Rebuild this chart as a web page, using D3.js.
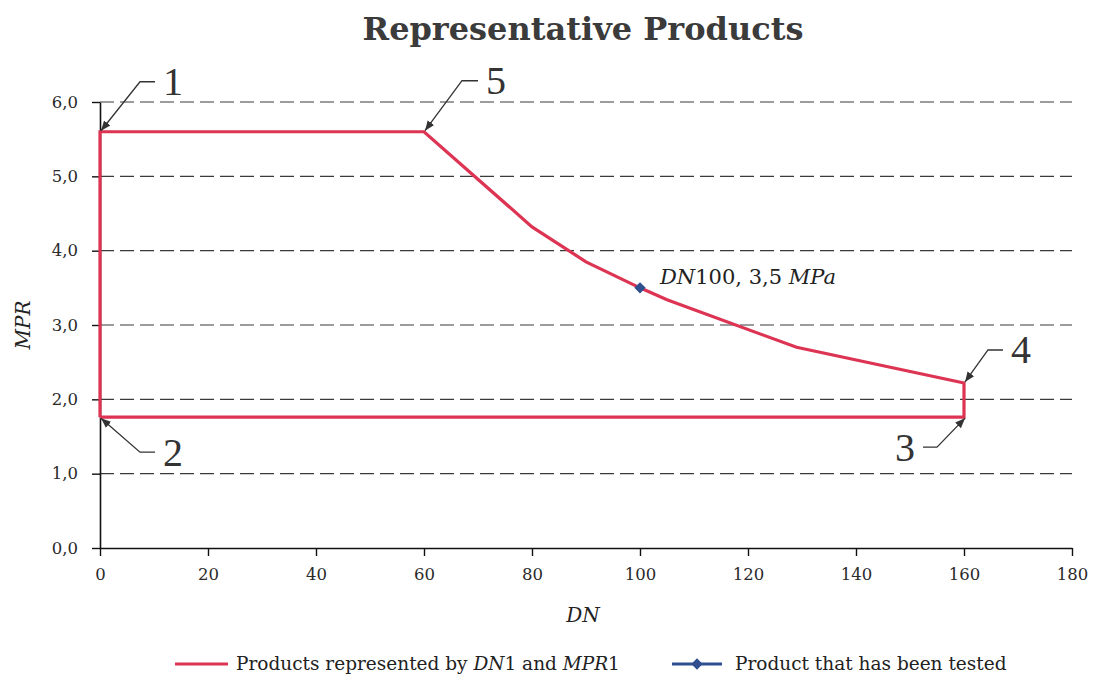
<!DOCTYPE html>
<html>
<head>
<meta charset="utf-8">
<script src="https://cdn.jsdelivr.net/npm/d3@7"></script>
<style>
  body { margin: 0; background: #fff; }
  svg { display: block; }
  text { font-family: "DejaVu Serif", serif; fill: #222; }
</style>
</head>
<body>
<div id="wrapper"></div>
<script>
// data
const xTicks = [0, 20, 40, 60, 80, 100, 120, 140, 160, 180];
const yTicks = [0, 1, 2, 3, 4, 5, 6];
const envelopeDN = [0, 0, 60, 80, 90, 100, 105, 129, 160, 160, 0];
const envelopeMPR = [1.76, 5.6, 5.6, 4.32, 3.85, 3.5, 3.34, 2.7, 2.22, 1.76, 1.76];
const testedDN = [100];
const testedMPR = [3.5];
const calloutLabels = ["1", "2", "3", "4", "5"];
const calloutDN = [0, 0, 160, 160, 60];
const calloutMPR = [5.6, 1.76, 1.76, 2.22, 5.6];

const envelope = envelopeDN.map((d, i) => ({ dn: d, mpr: envelopeMPR[i] }));
const tested = testedDN.map((d, i) => ({ dn: d, mpr: testedMPR[i] }));
const callouts = calloutLabels.map((l, i) => ({
  label: l, dn: calloutDN[i], mpr: calloutMPR[i],
}));

const red = "#dc3452";
const blue = "#2f4f8f";

let dimensions = {
  width: 1094,
  height: 677,
  margin: { top: 102, right: 22, bottom: 129, left: 100 },
};
dimensions.boundedWidth =
  dimensions.width - dimensions.margin.left - dimensions.margin.right;
dimensions.boundedHeight =
  dimensions.height - dimensions.margin.top - dimensions.margin.bottom;

const wrapper = d3
  .select("#wrapper")
  .append("svg")
  .attr("width", dimensions.width)
  .attr("height", dimensions.height);

wrapper
  .append("defs")
  .append("marker")
  .attr("id", "arrow")
  .attr("viewBox", "0 0 10 10")
  .attr("refX", 10)
  .attr("refY", 5)
  .attr("markerWidth", 10)
  .attr("markerHeight", 10)
  .attr("markerUnits", "userSpaceOnUse")
  .attr("orient", "auto")
  .append("path")
  .attr("d", "M0,1 L10,5 L0,9 Z")
  .attr("fill", "#333");

const bounds = wrapper
  .append("g")
  .attr(
    "transform",
    `translate(${dimensions.margin.left},${dimensions.margin.top})`
  );

const xScale = d3
  .scaleLinear()
  .domain([0, 180])
  .range([0, dimensions.boundedWidth]);

const yScale = d3
  .scaleLinear()
  .domain([0, 6])
  .range([dimensions.boundedHeight, 0]);

// title
wrapper
  .append("text")
  .attr("x", 583)
  .attr("y", 40)
  .attr("text-anchor", "middle")
  .style("font-size", "32px")
  .style("font-weight", "bold")
  .style("fill", "#3b3b3b")
  .text("Representative Products");

// dashed grid
bounds
  .append("g")
  .selectAll("line")
  .data(yTicks.filter((d) => d > 0))
  .join("line")
  .attr("x1", 0)
  .attr("x2", dimensions.boundedWidth)
  .attr("y1", (d) => yScale(d))
  .attr("y2", (d) => yScale(d))
  .attr("stroke", "#3a3a3a")
  .attr("stroke-width", 1.2)
  .attr("stroke-dasharray", "14,6");

// axes
const comma = (d) => d.toFixed(1).replace(".", ",");

const yAxis = bounds
  .append("g")
  .call(
    d3.axisLeft(yScale).tickValues(yTicks).tickFormat(comma).tickSize(8).tickSizeOuter(0)
  );

const xAxis = bounds
  .append("g")
  .attr("transform", `translate(0,${dimensions.boundedHeight})`)
  .call(
    d3.axisBottom(xScale).tickValues(xTicks).tickSize(8).tickSizeOuter(0)
  );

[xAxis, yAxis].forEach((ax) => {
  ax.select(".domain").attr("stroke", "#111").attr("stroke-width", 1.6);
  ax.selectAll(".tick line").attr("stroke", "#111").attr("stroke-width", 1.4);
  ax.selectAll(".tick text")
    .style("font-family", "'DejaVu Serif', serif")
    .style("font-size", "16.5px")
    .style("fill", "#2a2a2a");
});
yAxis.selectAll(".tick text").attr("x", -22);
xAxis.selectAll(".tick text").attr("y", 20);

// axis titles
wrapper
  .append("text")
  .attr("transform", "translate(30,325) rotate(-90)")
  .attr("text-anchor", "middle")
  .style("font-size", "20px")
  .style("font-style", "italic")
  .text("MPR");

wrapper
  .append("text")
  .attr("x", 583)
  .attr("y", 622)
  .attr("text-anchor", "middle")
  .style("font-size", "20px")
  .style("font-style", "italic")
  .text("DN");

// envelope
const lineGenerator = d3
  .line()
  .x((d) => xScale(d.dn))
  .y((d) => yScale(d.mpr));

bounds
  .append("path")
  .attr("d", lineGenerator(envelope))
  .attr("fill", "none")
  .attr("stroke", red)
  .attr("stroke-width", 3.2)
  .attr("stroke-linejoin", "miter");

// tested product
const diamond = d3.symbol(d3.symbolSquare, 64);

bounds
  .selectAll(".tested")
  .data(tested)
  .join("path")
  .attr("class", "tested")
  .attr("d", diamond)
  .attr("transform", (d) => `translate(${xScale(d.dn)},${yScale(d.mpr)}) rotate(45)`)
  .attr("fill", blue);

const testedLabel = bounds
  .selectAll(".tested-label")
  .data(tested)
  .join("text")
  .attr("class", "tested-label")
  .attr("x", (d) => xScale(d.dn) + 20)
  .attr("y", (d) => yScale(d.mpr) - 4)
  .style("font-size", "21px");
testedLabel.append("tspan").style("font-style", "italic").text("DN");
testedLabel.append("tspan").text((d) => `${d.dn}, ${comma(d.mpr)} `);
testedLabel.append("tspan").style("font-style", "italic").text("MPa");

// numbered callouts: elbow offset from arrow tip, then short horizontal run
const calloutLayout = {
  1: { ex: 40, ey: -50, run: 15 },
  5: { ex: 38, ey: -51, run: 16 },
  4: { ex: 24, ey: -33, run: 15 },
  3: { ex: -27, ey: 30, run: -14 },
  2: { ex: 40, ey: 35, run: 15 },
};

const calloutGroups = bounds
  .selectAll(".callout")
  .data(callouts)
  .join("g")
  .attr("class", "callout")
  .attr("transform", (d) => `translate(${xScale(d.dn)},${yScale(d.mpr)})`);

calloutGroups
  .append("path")
  .attr("d", (d) => {
    const c = calloutLayout[d.label];
    return `M${c.ex + c.run},${c.ey} L${c.ex},${c.ey} L1,${Math.sign(c.ey)}`;
  })
  .attr("fill", "none")
  .attr("stroke", "#333")
  .attr("stroke-width", 1.3)
  .attr("marker-end", "url(#arrow)");

calloutGroups
  .append("text")
  .attr("x", (d) => {
    const c = calloutLayout[d.label];
    return c.ex + c.run + Math.sign(c.run) * 18;
  })
  .attr("y", (d) => calloutLayout[d.label].ey)
  .attr("text-anchor", "middle")
  .attr("dominant-baseline", "central")
  .style("font-family", "'Liberation Serif', serif")
  .style("font-size", "40px")
  .style("fill", "#333")
  .text((d) => d.label);

// legend
const legend = wrapper.append("g").attr("transform", "translate(0,664)");

legend
  .append("line")
  .attr("x1", 175)
  .attr("x2", 228)
  .attr("stroke", red)
  .attr("stroke-width", 3);

const legendText1 = legend
  .append("text")
  .attr("x", 236)
  .attr("y", 6)
  .style("font-size", "18.5px");
legendText1.append("tspan").text("Products represented by ");
legendText1.append("tspan").style("font-style", "italic").text("DN");
legendText1.append("tspan").text("1 and ");
legendText1.append("tspan").style("font-style", "italic").text("MPR");
legendText1.append("tspan").text("1");

legend
  .append("line")
  .attr("x1", 672)
  .attr("x2", 722)
  .attr("stroke", blue)
  .attr("stroke-width", 3);

legend
  .append("path")
  .attr("d", diamond)
  .attr("transform", "translate(697,0) rotate(45)")
  .attr("fill", blue);

legend
  .append("text")
  .attr("x", 735)
  .attr("y", 6)
  .style("font-size", "18.5px")
  .text("Product that has been tested");
</script>
</body>
</html>
